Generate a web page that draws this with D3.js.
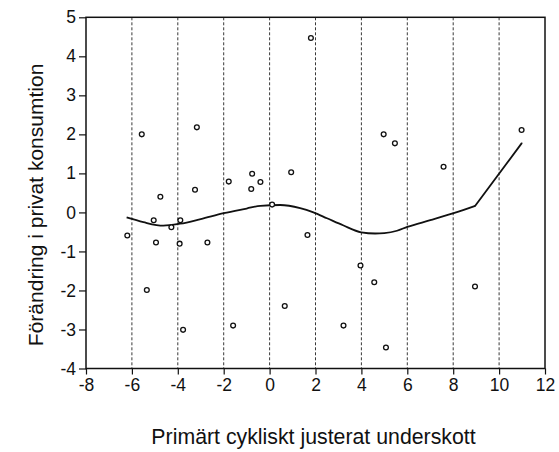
<!DOCTYPE html>
<html>
<head>
<meta charset="utf-8">
<style>
  body { margin: 0; padding: 0; background: #fff; }
  svg { display: block; font-family: "Liberation Sans", Arial, sans-serif; }
</style>
<script src="https://cdn.jsdelivr.net/npm/d3@7"></script>
</head>
<body>
<svg id="chart" width="559" height="452"></svg>
<script>
// scatter points: primary cyclically adjusted deficit vs change in private consumption
const pointX = [1.80, -5.57, -3.17, -4.76, -3.25, -1.78, -0.76, -0.80, -0.40, 0.94,
                4.97, 5.46, 7.58, 10.98, -6.20, -5.05, -4.95, -4.28, -3.89, -3.92,
                -2.71, -5.35, -3.77, -1.59, 0.11, 1.65, 0.66, 3.96, 4.56, 8.95,
                3.22, 5.07];
const pointY = [4.47, 2.00, 2.18, 0.40, 0.58, 0.79, 0.99, 0.60, 0.78, 1.03,
                2.00, 1.77, 1.17, 2.11, -0.59, -0.20, -0.77, -0.38, -0.20, -0.80,
                -0.77, -1.99, -3.01, -2.90, 0.20, -0.58, -2.40, -1.36, -1.79, -1.90,
                -2.90, -3.46];

// smoothed fit line (last piece is straight)
const fitX = [-6.23, -5.5, -4.63, -3.9, -3.0, -2.0, -1.0, -0.4, 0.46, 1.33, 1.91, 2.5,
              3.2, 3.99, 4.6, 5.0, 5.55, 6.0, 7.0, 8.02, 8.96, 10.98];
const fitY = [-0.13, -0.25, -0.34, -0.29, -0.17, -0.02, 0.10, 0.17, 0.19, 0.11, 0.0, -0.15,
              -0.33, -0.51, -0.54, -0.53, -0.47, -0.37, -0.2, -0.02, 0.17, 1.77];

const xTicks = [-8, -6, -4, -2, 0, 2, 4, 6, 8, 10, 12];
const yTicks = [-4, -3, -2, -1, 0, 1, 2, 3, 4, 5];
const gridX = [-6, -4, -2, 0, 2, 4, 6, 8, 10];

const xLabel = 'Primärt cykliskt justerat underskott';
const yLabel = 'Förändring i privat konsumtion';

const svg = d3.select('#chart');
const margin = { top: 17.3, right: 14, bottom: 83.5, left: 86 };
const width = +svg.attr('width');
const height = +svg.attr('height');

const x = d3.scaleLinear().domain([-8, 12]).range([margin.left, width - margin.right]);
const y = d3.scaleLinear().domain([-4, 5]).range([height - margin.bottom, margin.top]);

// dashed vertical grid
svg.append('g')
  .selectAll('line')
  .data(gridX)
  .join('line')
  .attr('x1', d => x(d)).attr('x2', d => x(d))
  .attr('y1', y(5)).attr('y2', y(-4))
  .attr('stroke', '#222')
  .attr('stroke-width', 0.9)
  .attr('stroke-dasharray', '3,2');

// axes
const fmt = d => d < 0 ? '-' + Math.abs(d) : d;
const xAxis = d3.axisBottom(x).tickValues(xTicks).tickSize(6).tickPadding(4).tickFormat(fmt);
const yAxis = d3.axisLeft(y).tickValues(yTicks).tickSize(7).tickPadding(3).tickFormat(fmt);

const gx = svg.append('g')
  .attr('transform', `translate(0,${y(-4)})`)
  .call(xAxis);
const gy = svg.append('g')
  .attr('transform', `translate(${x(-8)},0)`)
  .call(yAxis);

[gx, gy].forEach(g => {
  g.select('.domain').remove();
  g.selectAll('line').attr('stroke', '#111').attr('stroke-width', 1.2);
  g.selectAll('text').attr('fill', '#111').style('font-size', '17.5px')
    .style('font-family', '"Liberation Sans", Arial, sans-serif');
});

// frame
svg.append('rect')
  .attr('x', x(-8)).attr('y', y(5))
  .attr('width', x(12) - x(-8)).attr('height', y(-4) - y(5))
  .attr('fill', 'none')
  .attr('stroke', '#111')
  .attr('stroke-width', 1.5);

// fit line: smooth part, then the straight end piece
const fitData = fitX.map((d, i) => ({ x: d, y: fitY[i] }));
const smooth = d3.line()
  .x(d => x(d.x))
  .y(d => y(d.y))
  .curve(d3.curveMonotoneX);
const straight = d3.line()
  .x(d => x(d.x))
  .y(d => y(d.y));

svg.append('path')
  .datum(fitData.slice(0, -1))
  .attr('fill', 'none')
  .attr('stroke', '#111')
  .attr('stroke-width', 1.8)
  .attr('d', smooth);
svg.append('path')
  .datum(fitData.slice(-2))
  .attr('fill', 'none')
  .attr('stroke', '#111')
  .attr('stroke-width', 1.8)
  .attr('stroke-linecap', 'round')
  .attr('d', straight);

// points
const pts = pointX.map((d, i) => ({ x: d, y: pointY[i] }));
svg.append('g')
  .selectAll('circle')
  .data(pts)
  .join('circle')
  .attr('cx', d => x(d.x))
  .attr('cy', d => y(d.y))
  .attr('r', 2.4)
  .attr('fill', '#fff')
  .attr('stroke', '#111')
  .attr('stroke-width', 1.3);

// axis titles
svg.append('text')
  .attr('x', (x(-8) + x(12)) / 2 - 2)
  .attr('y', 444)
  .attr('text-anchor', 'middle')
  .attr('fill', '#111')
  .style('font-size', '21.3px')
  .text(xLabel);

svg.append('text')
  .attr('transform', `translate(43,${(y(5) + y(-4)) / 2 + 12}) rotate(-90)`)
  .attr('text-anchor', 'middle')
  .attr('fill', '#111')
  .style('font-size', '21px')
  .text(yLabel);
</script>
</body>
</html>
